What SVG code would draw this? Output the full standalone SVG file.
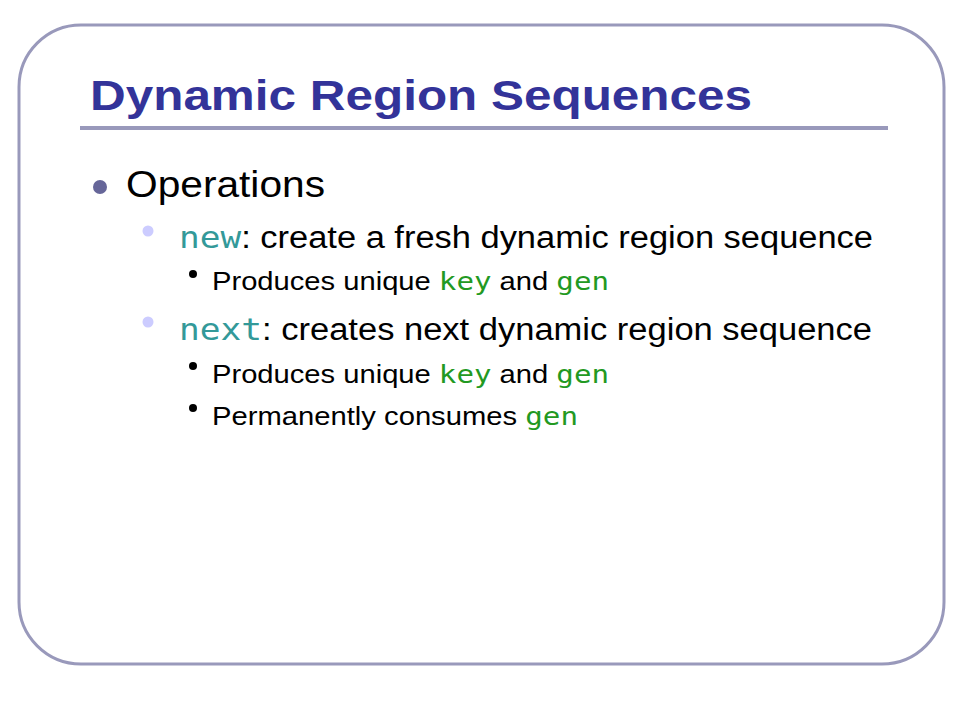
<svg xmlns="http://www.w3.org/2000/svg" width="960" height="720" viewBox="0 0 960 720">
<style>
.s{font-family:"Liberation Sans",Arial,sans-serif;fill:#000}
.m{font-family:"DejaVu Sans Mono","Liberation Mono",monospace}
.t{fill:#339999}
.g{fill:#229922}
</style>
<rect x="0" y="0" width="960" height="720" fill="#fff"/>
<rect x="19" y="25" width="925" height="639" rx="62" ry="62" fill="#fff" stroke="#9999bb" stroke-width="3"/>
<text x="90" y="110" font-family="Liberation Sans,Arial,sans-serif" font-weight="bold" font-size="42" fill="#333399" textLength="662" lengthAdjust="spacingAndGlyphs">Dynamic Region Sequences</text>
<line x1="80" y1="128" x2="888" y2="128" stroke="#9999bb" stroke-width="4"/>
<circle cx="100" cy="187" r="7" fill="#666699"/>
<text x="126" y="197" class="s" font-size="37" textLength="199" lengthAdjust="spacingAndGlyphs">Operations</text>
<circle cx="148" cy="231" r="5.5" fill="#ccccff"/>
<text x="179" y="248" class="s" font-size="31" textLength="694" lengthAdjust="spacingAndGlyphs"><tspan class="m t">new</tspan>: create a fresh dynamic region sequence</text>
<circle cx="193" cy="274" r="4" fill="#000"/>
<text x="212" y="290" class="s" font-size="25" textLength="397" lengthAdjust="spacingAndGlyphs">Produces unique <tspan class="m g">key</tspan> and <tspan class="m g">gen</tspan></text>
<circle cx="148" cy="322" r="5.5" fill="#ccccff"/>
<text x="179" y="340" class="s" font-size="31" textLength="693" lengthAdjust="spacingAndGlyphs"><tspan class="m t">next</tspan>: creates next dynamic region sequence</text>
<circle cx="193" cy="366" r="4" fill="#000"/>
<text x="212" y="383" class="s" font-size="25" textLength="397" lengthAdjust="spacingAndGlyphs">Produces unique <tspan class="m g">key</tspan> and <tspan class="m g">gen</tspan></text>
<circle cx="193" cy="408" r="4" fill="#000"/>
<text x="212" y="425" class="s" font-size="25" textLength="366" lengthAdjust="spacingAndGlyphs">Permanently consumes <tspan class="m g">gen</tspan></text>
</svg>
